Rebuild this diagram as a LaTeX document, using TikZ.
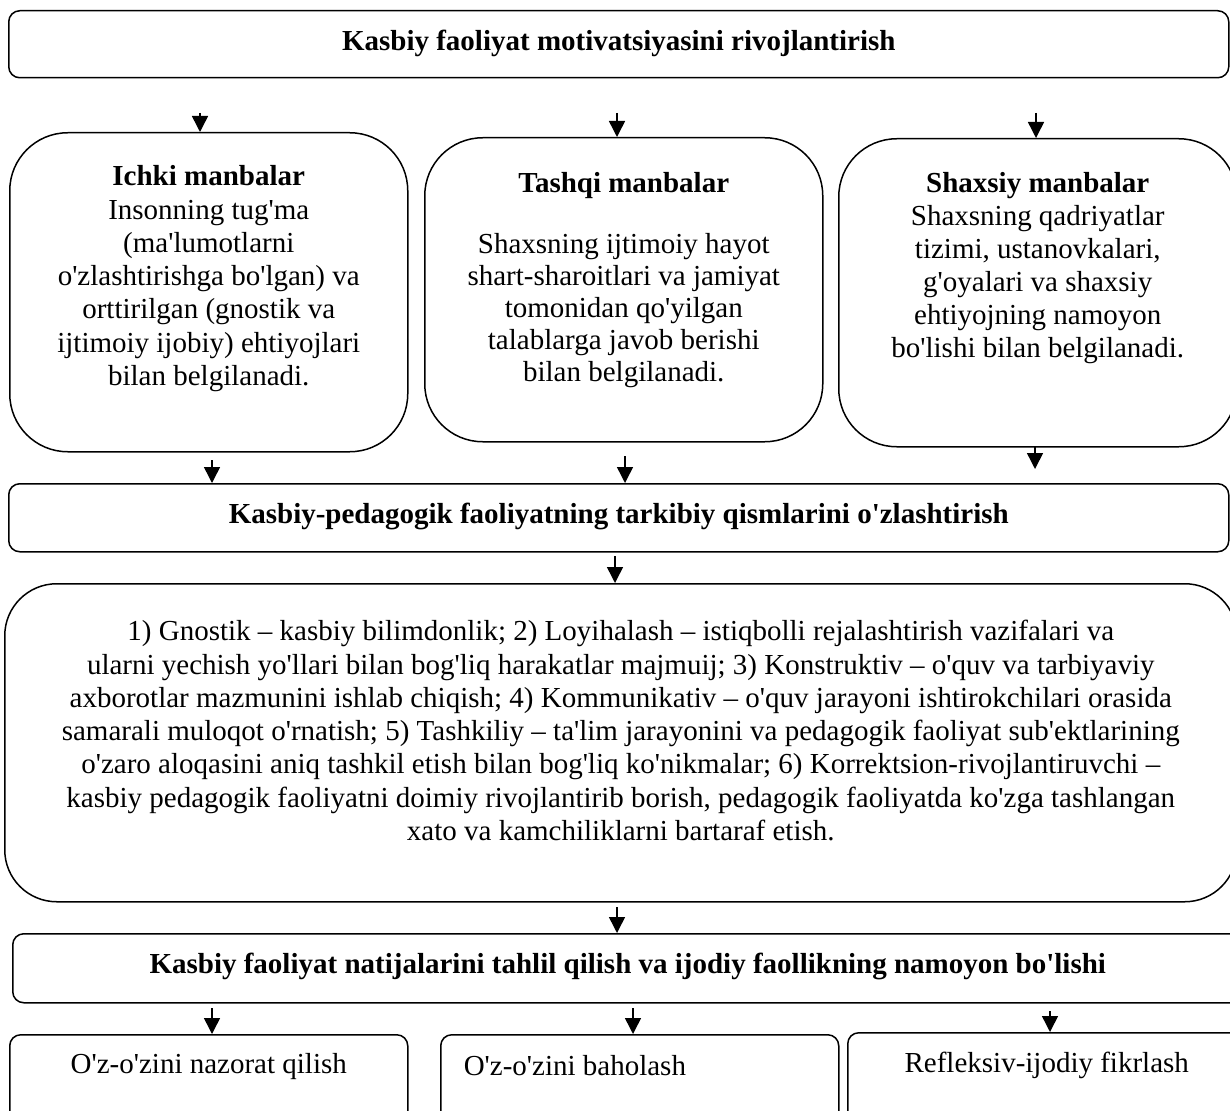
\documentclass[tikz,border=0pt]{standalone}
\usepackage{fontspec}
\setmainfont{Liberation Serif}[Ligatures=TeXOff]
\usetikzlibrary{arrows.meta}
\newcommand\boxc[3]{\begin{minipage}[t][#2][t]{#1}\parindent=0pt\centering #3\end{minipage}}
\newcommand\boxl[3]{\begin{minipage}[t][#2][t]{#1}\parindent=0pt\raggedright #3\end{minipage}}
\tikzset{
  boxbase/.style={draw, line width=1.5pt, inner sep=0pt, anchor=north west,
    font=\fontsize{29pt}{33.3pt}\selectfont},
  sbox/.style={boxbase, rounded corners=11pt},
  bigbox/.style={boxbase, rounded corners=58pt},
  arr/.style={-{Triangle[width=16pt,length=16pt]}, line width=1.5pt}
}
\begin{document}
\begin{tikzpicture}[x=1pt,y=-1pt]
\useasboundingbox (0,0) rectangle (1230,1110);
\clip (0,0) rectangle (1230,1110);

% top title
\node[sbox] (T) at (8,10) {\boxc{1220pt}{67pt}{\rule{0pt}{40pt}\textbf{Kasbiy faoliyat motivatsiyasini rivojlantirish}}};

% three sources
\node[bigbox] (b1) at (9,132) {\boxc{398pt}{319pt}{\rule{0pt}{53pt}\textbf{Ichki manbalar}\\
Insonning tug'ma\\
(ma'lumotlarni\\
o'zlashtirishga bo'lgan) va\\
orttirilgan (gnostik va\\
ijtimoiy ijobiy) ehtiyojlari\\
bilan belgilanadi.}};

\node[bigbox] (b2) at (424,137) {\boxc{398pt}{304pt}{\fontsize{29pt}{32pt}\selectfont\rule{0pt}{55pt}\textbf{Tashqi manbalar}\\[29pt]
Shaxsning ijtimoiy hayot\\
shart-sharoitlari va jamiyat\\
tomonidan qo'yilgan\\
talablarga javob berishi\\
bilan belgilanadi.}};

\node[bigbox] (b3) at (838,138) {\boxc{398pt}{308pt}{\fontsize{29pt}{33pt}\selectfont\rule{0pt}{54pt}\textbf{Shaxsiy manbalar}\\
Shaxsning qadriyatlar\\
tizimi, ustanovkalari,\\
g'oyalari va shaxsiy\\
ehtiyojning namoyon\\
bo'lishi bilan belgilanadi.}};

% second title
\node[sbox] (M) at (8,483) {\boxc{1220pt}{68pt}{\rule{0pt}{40pt}\textbf{Kasbiy-pedagogik faoliyatning tarkibiy qismlarini o'zlashtirish}}};

% big description
\node[bigbox, rounded corners=52pt] (G) at (4,583) {\boxc{1232pt}{318pt}{\rule{0pt}{57pt}1) Gnostik – kasbiy bilimdonlik; 2) Loyihalash – istiqbolli rejalashtirish vazifalari va\\
ularni yechish yo'llari bilan bog'liq harakatlar majmuij; 3) Konstruktiv – o'quv va tarbiyaviy\\
axborotlar mazmunini ishlab chiqish; 4) Kommunikativ – o'quv jarayoni ishtirokchilari orasida\\
samarali muloqot o'rnatish; 5) Tashkiliy – ta'lim jarayonini va pedagogik faoliyat sub'ektlarining\\
o'zaro aloqasini aniq tashkil etish bilan bog'liq ko'nikmalar; 6) Korrektsion-rivojlantiruvchi –\\
kasbiy pedagogik faoliyatni doimiy rivojlantirib borish, pedagogik faoliyatda ko'zga tashlangan\\
xato va kamchiliklarni bartaraf etish.}};

% third title
\node[sbox] (W) at (12,933) {\boxc{1230pt}{69pt}{\rule{0pt}{40pt}\textbf{Kasbiy faoliyat natijalarini tahlil qilish va ijodiy faollikning namoyon bo'lishi}}};

% bottom boxes
\node[sbox] (A) at (9,1034) {\boxc{398pt}{90pt}{\rule{0pt}{39pt}O'z-o'zini nazorat qilish}};
\node[sbox] (B) at (440,1034) {\boxl{398pt}{90pt}{\hspace*{23pt}\rule{0pt}{41pt}O'z-o'zini baholash}};
\node[sbox] (C) at (847,1032) {\boxc{398pt}{90pt}{\rule{0pt}{40pt}Refleksiv-ijodiy fikrlash}};

% arrow coordinates
\coordinate (a1) at (200,113);
\coordinate (a2) at (617,113);
\coordinate (a3) at (1036,113);
\coordinate (c1) at (212,460);
\coordinate (c2) at (625,456);
\coordinate (c3) at (1035,447);
\coordinate (c3e) at (1035,469);
\coordinate (d1) at (615,556);
\coordinate (e1) at (617,907);
\coordinate (f1) at (212,1008);
\coordinate (f2) at (633,1008);
\coordinate (f3) at (1050,1011);

\draw[arr] (a1) -- (b1.north -| a1);
\draw[arr] (a2) -- (b2.north -| a2);
\draw[arr] (a3) -- (b3.north -| a3);
\draw[arr] (c1) -- (M.north -| c1);
\draw[arr] (c2) -- (M.north -| c2);
\draw[arr] (c3) -- (c3e);
\draw[arr] (d1) -- (G.north -| d1);
\draw[arr] (e1) -- (W.north -| e1);
\draw[arr] (f1) -- (A.north -| f1);
\draw[arr] (f2) -- (B.north -| f2);
\draw[arr] (f3) -- (C.north -| f3);
\end{tikzpicture}
\end{document}
